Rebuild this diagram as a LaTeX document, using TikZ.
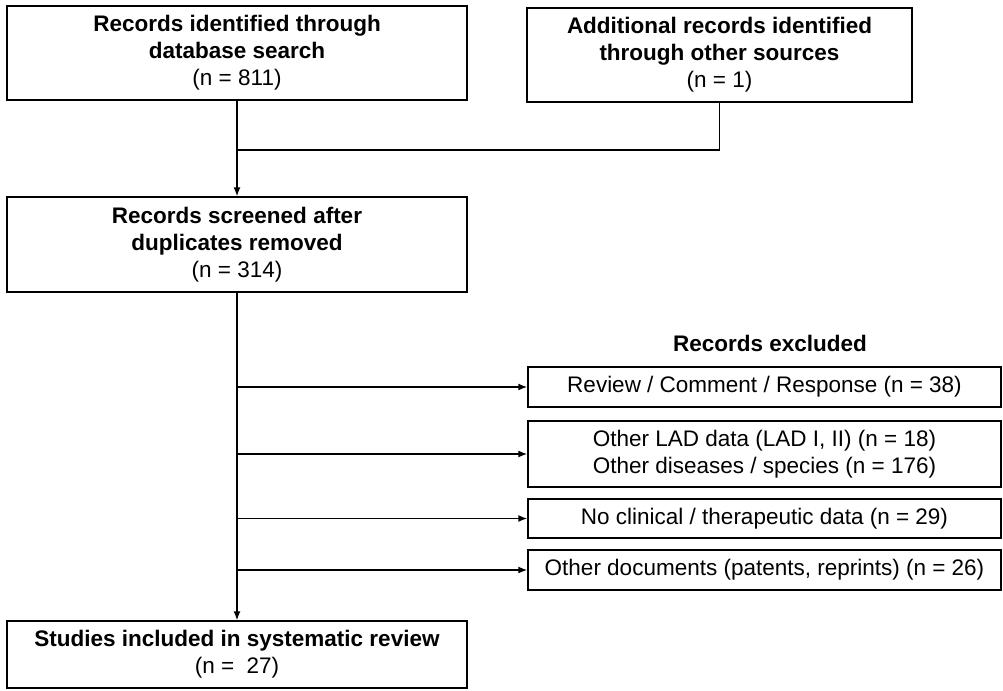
\documentclass[tikz,border=0pt]{standalone}
\usepackage{fontspec}
\setmainfont{Liberation Sans}
\usetikzlibrary{arrows.meta}
\begin{document}
\begin{tikzpicture}[
  x=0.025cm, y=-0.025cm,
  >={Latex[length=2.2mm,width=1.7mm]},
  box/.style={rectangle, draw, line width=1pt, minimum width=11.5cm, align=center, inner sep=2pt, font=\fontsize{16}{19.2}\selectfont},
  exbox/.style={rectangle, draw, line width=1pt, minimum width=11.825cm, minimum height=1cm, align=center, inner sep=2pt, font=\fontsize{16}{19.2}\selectfont},
  arrow/.style={->, line width=0.9pt},
  link/.style={line width=0.9pt}
]
\useasboundingbox (0,0) rectangle (1003,690);

% Identification
\node[box, minimum height=2.35cm] (db) at (237,53) {\textbf{Records identified through}\\\textbf{database search}\\(n = 811)};
\node[box, minimum width=9.625cm, minimum height=2.35cm] (other) at (719.5,55) {\textbf{Additional records identified}\\\textbf{through other sources}\\(n = 1)};

% Screening
\node[box, minimum height=2.375cm] (screen) at (237,244.5) {\textbf{Records screened after}\\\textbf{duplicates removed}\\(n = 314)};

% Included
\node[box, minimum height=1.675cm] (incl) at (237,654.5) {\textbf{Studies included in systematic review}\\(n =\ \ 27)};

% Exclusions
\node[font=\fontsize{16}{19.2}\selectfont\bfseries] (exlabel) at (770,343) {Records excluded};
\node[exbox] (ex1) at (764.5,387) {Review / Comment / Response (n = 38)};
\node[exbox, minimum height=1.65cm] (ex2) at (764.5,454) {Other LAD data (LAD I, II) (n = 18)\\Other diseases / species (n = 176)};
\node[exbox, minimum height=0.975cm] (ex3) at (764.5,518.5) {No clinical / therapeutic data (n = 29)};
\node[exbox] (ex4) at (764.5,570) {Other documents (patents, reprints) (n = 26)};

% Arrows
\coordinate (join) at (237,150);
\draw[arrow] (db) -- (screen);
\draw[link] (other.south) |- (join);
\draw[arrow] (screen) -- (incl);
\foreach \e in {ex1,ex2,ex3,ex4}
  \draw[arrow] (screen.south |- \e.west) -- (\e.west);

\end{tikzpicture}
\end{document}
